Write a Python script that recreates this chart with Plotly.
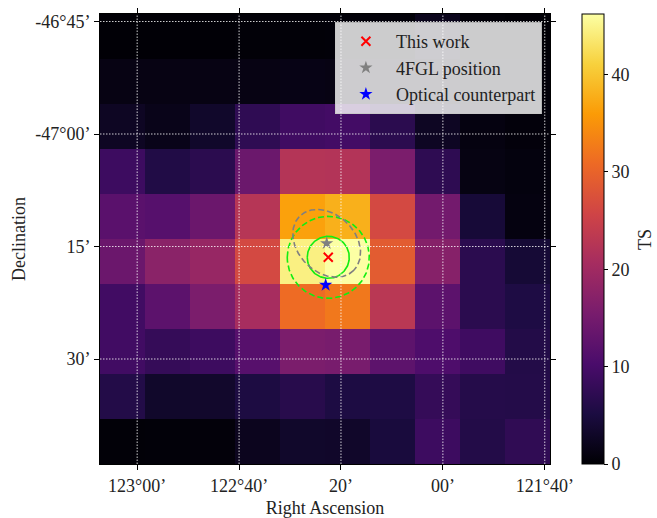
import numpy as np
import plotly.graph_objects as go

# ---------------- data ----------------
# TS map (rows top -> bottom = Dec decreasing, columns left -> right = RA decreasing)
ts_rows = [
    [0.2, 0.2, 0.2, 0.3, 0.3, 0.4, 0.4, 2.0, 0.3, 0.2],
    [1.3, 1.3, 1.3, 1.3, 1.4, 1.3, 1.3, 1.0, 0.8, 0.5],
    [2.6, 1.8, 3.3, 7.3, 9.2, 9.5, 6.9, 2.6, 1.0, 0.6],
    [8.9, 5.8, 6.9, 14.0, 22.4, 22.2, 15.7, 7.2, 1.2, 0.8],
    [12.0, 11.6, 13.9, 22.6, 36.5, 37.9, 26.3, 14.8, 4.4, 1.0],
    [13.9, 17.5, 18.9, 26.3, 44.5, 46.2, 29.0, 17.0, 6.9, 4.2],
    [9.3, 12.3, 15.7, 20.8, 31.0, 32.3, 23.0, 12.3, 6.9, 5.5],
    [9.3, 8.0, 8.8, 11.7, 15.7, 15.4, 12.4, 10.7, 9.1, 6.0],
    [6.0, 3.3, 3.4, 5.3, 6.5, 5.4, 5.5, 8.0, 6.2, 6.1],
    [0.3, 0.4, 0.5, 2.2, 3.3, 3.2, 4.8, 8.9, 6.0, 7.4],
]
ra_left_edge = 123.1216      # deg
ra_step = 0.1472             # deg of RA per pixel column
dec_top_edge = -46.7333      # deg
dec_step = 0.1               # deg per pixel row
ts_max = 46.2

ra_tick_vals = [123.0, 122 + 40 / 60, 122 + 20 / 60, 122.0, 121 + 40 / 60]
ra_tick_text = ["123°00’", "122°40’", "20’", "00’", "121°40’"]
dec_tick_vals = [-46.75, -47.0, -47.25, -47.5]
dec_tick_text = ["-46°45’", "-47°00’", "15’", "30’"]
ts_ticks = [0, 10, 20, 30, 40]

this_work_ra, this_work_dec = 122.3749, -47.2740
fgl_ra, fgl_dec = 122.3801, -47.2429
optical_ra, optical_dec = 122.3834, -47.3356
circle_inner_r = 0.0467      # deg on sky
circle_outer_r = 0.0911      # deg on sky
fgl_ell_a, fgl_ell_b, fgl_ell_pa = 0.0850, 0.0640, 45.0   # deg, deg, deg

# ---------------- figure ----------------
n_rows = len(ts_rows)
n_cols = len(ts_rows[0])
ra_centers = [ra_left_edge - (i + 0.5) * ra_step for i in range(n_cols)]
dec_centers = [dec_top_edge - (j + 0.5) * dec_step for j in range(n_rows)]
cosd = np.cos(np.radians(-47.233))

FONT = "Liberation Serif"
TXT = "#222"
fig = go.Figure()

fig.add_trace(go.Heatmap(
    z=ts_rows, x=ra_centers, y=dec_centers,
    colorscale="Inferno", zmin=0, zmax=ts_max, showlegend=False,
    hoverinfo="skip",
    colorbar=dict(
        thickness=22, len=1, lenmode="fraction", y=0.5, yanchor="middle",
        x=1.0711, xanchor="left", xpad=0, ypad=0,
        outlinecolor="black", outlinewidth=1,
        tickvals=ts_ticks, ticks="outside", ticklen=4, tickcolor="black",
        tickfont=dict(family=FONT, size=18, color=TXT),
    ),
))

t = np.linspace(0, 2 * np.pi, 200)


def sky_circle(ra0, dec0, r):
    return ra0 + r * np.cos(t) / cosd, dec0 + r * np.sin(t)


# circles around "This work"
for r, dash in [(circle_inner_r, "solid"), (circle_outer_r, "6px,3px")]:
    cx, cy = sky_circle(this_work_ra, this_work_dec, r)
    fig.add_trace(go.Scatter(x=cx, y=cy, mode="lines", showlegend=False, hoverinfo="skip",
                             line=dict(color="#11ee11", width=1.6, dash=dash)))

# 4FGL ellipse (major axis upper-left -> lower-right on image)
pa = np.radians(fgl_ell_pa)
u = fgl_ell_a * np.cos(t) * np.cos(pa) - fgl_ell_b * np.sin(t) * np.sin(pa)   # right on image
v = fgl_ell_a * np.cos(t) * np.sin(pa) + fgl_ell_b * np.sin(t) * np.cos(pa)   # down on image
fig.add_trace(go.Scatter(x=fgl_ra - u / cosd, y=fgl_dec - v, mode="lines", showlegend=False,
                         hoverinfo="skip", line=dict(color="gray", width=1.6, dash="6px,3px")))

fig.add_trace(go.Scatter(x=[this_work_ra], y=[this_work_dec], mode="markers", name="This work",
                         marker=dict(symbol="x-thin", size=9, line=dict(color="red", width=2), color="red")))
fig.add_trace(go.Scatter(x=[fgl_ra], y=[fgl_dec], mode="markers", name="4FGL position",
                         marker=dict(symbol="star", size=10, color="gray")))
fig.add_trace(go.Scatter(x=[optical_ra], y=[optical_dec], mode="markers", name="Optical counterpart",
                         marker=dict(symbol="star", size=10, color="blue")))

# dotted white grid lines above the map
grid_line = dict(color="rgba(255,255,255,0.8)", width=1, dash="1.5px,1.5px")
shapes = []
for v_ in ra_tick_vals:
    shapes.append(dict(type="line", xref="x", yref="paper", x0=v_, x1=v_, y0=0, y1=1,
                       line=grid_line, layer="above"))
for v_ in dec_tick_vals:
    shapes.append(dict(type="line", xref="paper", yref="y", x0=0, x1=1, y0=v_, y1=v_,
                       line=grid_line, layer="above"))

axis_common = dict(showgrid=False, zeroline=False, showline=True, linecolor="black", linewidth=1,
                   mirror="ticks", ticks="outside", ticklen=5, tickcolor="black",
                   tickfont=dict(family=FONT, size=18, color=TXT))

fig.update_layout(
    width=657, height=518,
    margin=dict(l=100, r=107, t=14, b=54, autoexpand=False),
    paper_bgcolor="white", plot_bgcolor="black",
    shapes=shapes,
    xaxis=dict(range=[ra_left_edge, ra_left_edge - n_cols * ra_step],
               tickvals=ra_tick_vals, ticktext=ra_tick_text,
               title=dict(text="Right Ascension", standoff=8, font=dict(family=FONT, size=18, color=TXT)),
               **axis_common),
    yaxis=dict(range=[dec_top_edge - n_rows * dec_step, dec_top_edge],
               tickvals=dec_tick_vals, ticktext=dec_tick_text,
               title=dict(text="Declination", standoff=4, font=dict(family=FONT, size=18, color=TXT)),
               **axis_common),
    legend=dict(x=0.982, xanchor="right", y=0.982, yanchor="top", itemwidth=50,
                bgcolor="rgba(255,255,255,0.8)", bordercolor="rgba(200,200,200,0.9)", borderwidth=1,
                font=dict(family=FONT, size=18, color=TXT)),
    annotations=[dict(text="TS", xref="paper", yref="paper", x=1.211, y=0.5,
                      xanchor="center", yanchor="middle", textangle=-90, showarrow=False,
                      font=dict(family=FONT, size=18, color=TXT))],
)

fig.write_html("out.html", config={"displayModeBar": False},
               post_script="document.body.style.margin='0';")
